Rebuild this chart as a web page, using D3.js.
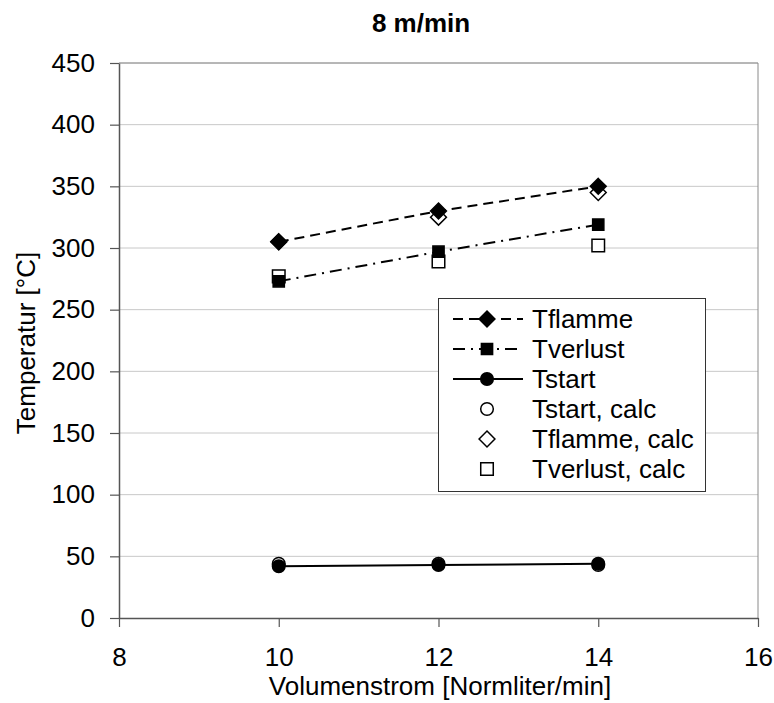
<!DOCTYPE html>
<html>
<head>
<meta charset="utf-8">
<script src="https://cdn.jsdelivr.net/npm/d3@7"></script>
<style>
  body { margin: 0; background: #fff; }
  text { font-family: "Liberation Sans", Arial, sans-serif; fill: #000; }
</style>
</head>
<body>
<svg id="chart" width="774" height="703"></svg>
<script>
// Flow rate (Normliter/min)
const xValues = [10, 12, 14];
// Measured temperatures (°C)
const tFlamme = [305, 330, 350];
const tVerlust = [273, 297, 319];
const tStart = [42, 43, 44];
// Calculated temperatures (°C)
const tStartCalc = [44, 44, 43];
const tFlammeCalc = [305, 325, 345];
const tVerlustCalc = [277, 289, 302];

const xTicks = [8, 10, 12, 14, 16];
const yTicks = [0, 50, 100, 150, 200, 250, 300, 350, 400, 450];

const svg = d3.select("#chart");
const plotL = 119, plotR = 758, plotT = 63, plotB = 618;
const FS = 26;

const x = d3.scaleLinear().domain([8, 16]).range([plotL, plotR]);
const y = d3.scaleLinear().domain([0, 450]).range([plotB, plotT]);

// Title
svg.append("text").attr("x", 421).attr("y", 32).attr("text-anchor", "middle")
  .attr("font-size", FS).attr("font-weight", "bold").text("8 m/min");

// Horizontal gridlines
svg.append("g").selectAll("line").data(yTicks.slice(1)).join("line")
  .attr("x1", plotL).attr("x2", plotR)
  .attr("y1", d => y(d)).attr("y2", d => y(d))
  .attr("stroke", "#c8c8c8").attr("stroke-width", 1);

// Plot frame (top/right)
svg.append("path")
  .attr("d", `M${plotL},${plotT}H${plotR}V${plotB}`)
  .attr("fill", "none").attr("stroke", "#8a8a8a").attr("stroke-width", 1);

// Axes
const yAxis = svg.append("g").attr("transform", `translate(${plotL},0)`)
  .call(d3.axisLeft(y).tickValues(yTicks).tickSize(9).tickPadding(15).tickSizeOuter(0));
const xAxis = svg.append("g").attr("transform", `translate(0,${plotB})`)
  .call(d3.axisBottom(x).tickValues(xTicks).tickSize(9).tickPadding(21).tickSizeOuter(0));
[yAxis, xAxis].forEach(g => {
  g.select(".domain").attr("stroke", "#555").attr("stroke-width", 1.5);
  g.selectAll(".tick line").attr("stroke", "#555").attr("stroke-width", 1.2);
  g.selectAll(".tick text").attr("font-size", FS)
    .attr("font-family", "Liberation Sans, Arial, sans-serif").attr("fill", "#000");
});

// Axis titles
svg.append("text").attr("x", 440).attr("y", 695).attr("text-anchor", "middle")
  .attr("font-size", FS).text("Volumenstrom [Normliter/min]");
svg.append("text").attr("transform", `translate(35,343) rotate(-90)`)
  .attr("text-anchor", "middle").attr("font-size", FS).text("Temperatur [°C]");

// Marker shapes
const symDiamond = d3.symbol().type(d3.symbolDiamond2).size(160)();
const symSquare = d3.symbol().type(d3.symbolSquare2).size(160)();
const symSquareOpen = d3.symbol().type(d3.symbolSquare2).size(200)();
const symCircle = d3.symbol().type(d3.symbolCircle).size(125)();

function marker(g, path, cx, cy, filled) {
  g.append("path").attr("d", path)
    .attr("transform", `translate(${cx},${cy})`)
    .attr("fill", filled ? "#000" : "#fff")
    .attr("stroke", "#000").attr("stroke-width", 1.5);
}

const line = d3.line().x(d => x(d[0])).y(d => y(d[1]));
const series = [
  { name: "Tflamme", vals: tFlamme, dash: "10,6", sym: symDiamond, filled: true, line: true },
  { name: "Tverlust", vals: tVerlust, dash: "12,6,2,6", sym: symSquare, filled: true, line: true },
  { name: "Tstart", vals: tStart, dash: null, sym: symCircle, filled: true, line: true },
  { name: "Tstart, calc", vals: tStartCalc, sym: symCircle, filled: false, line: false },
  { name: "Tflamme, calc", vals: tFlammeCalc, sym: symDiamond, filled: false, line: false },
  { name: "Tverlust, calc", vals: tVerlustCalc, sym: symSquareOpen, filled: false, line: false }
];

const plot = svg.append("g");
// Calculated markers underneath
series.filter(s => !s.line).forEach(s => {
  s.vals.forEach((v, i) => marker(plot, s.sym, x(xValues[i]), y(v), false));
});
// Measured lines and markers on top
series.filter(s => s.line).forEach(s => {
  plot.append("path").datum(xValues.map((xv, i) => [xv, s.vals[i]]))
    .attr("d", line).attr("fill", "none").attr("stroke", "#000")
    .attr("stroke-width", 2).attr("stroke-dasharray", s.dash);
  s.vals.forEach((v, i) => marker(plot, s.sym, x(xValues[i]), y(v), true));
});

// Legend
const lg = svg.append("g");
lg.append("rect").attr("x", 438.5).attr("y", 298.5).attr("width", 267).attr("height", 193)
  .attr("fill", "#fff").attr("stroke", "#333").attr("stroke-width", 1);
series.forEach((s, i) => {
  const cy = 319 + i * 30;
  if (s.line) {
    lg.append("line").attr("x1", 453).attr("x2", 523).attr("y1", cy).attr("y2", cy)
      .attr("stroke", "#000").attr("stroke-width", 2).attr("stroke-dasharray", s.dash);
  }
  marker(lg, s.sym, 487, cy, s.filled);
  lg.append("text").attr("x", 532).attr("y", cy + 9).attr("font-size", FS).text(s.name);
});
</script>
</body>
</html>
